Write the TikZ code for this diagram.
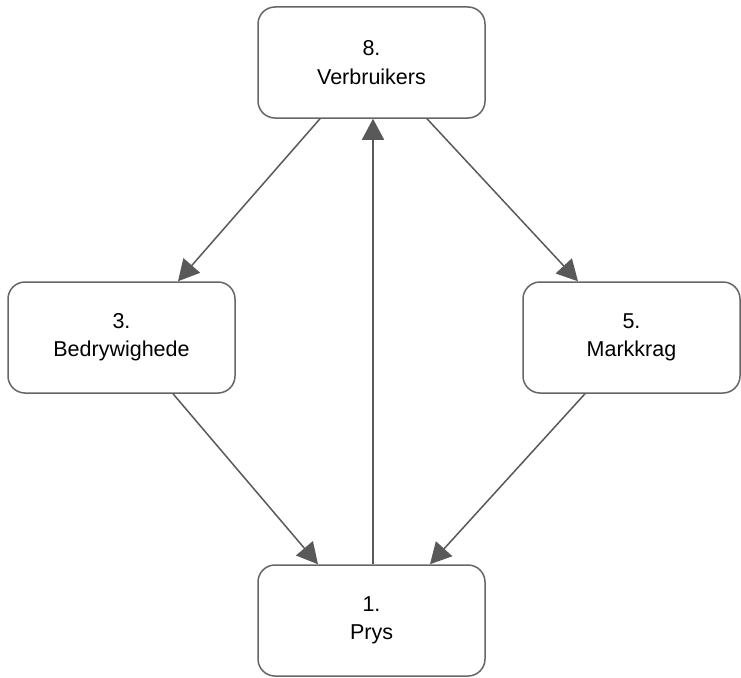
\documentclass[tikz,border=0pt]{standalone}
\usepackage{fontspec}
\setmainfont{Liberation Sans}
\usetikzlibrary{arrows.meta}
\definecolor{edgegray}{HTML}{666666}
\definecolor{arrowgray}{HTML}{595959}
\begin{document}
\begin{tikzpicture}[x=1pt,y=-1pt,
  stage/.style={draw=edgegray, line width=1.5pt, rounded corners=17pt, fill=white,
    minimum height=111pt, inner sep=0pt, align=center,
    font=\fontsize{21.5}{28.3}\selectfont},
  link/.style={draw=arrowgray, line width=1.5pt,
    -{Triangle[length=21pt,width=22pt]}}]
  \useasboundingbox (0,0) rectangle (741,677);
  % four stages of the cycle
  \node[stage, minimum width=227pt] (verb) at (371.5,62.5) {8.\\Verbruikers};
  \node[stage, minimum width=227pt] (bedr) at (121.5,337.5) {3.\\Bedrywighede};
  \node[stage, minimum width=217pt] (mark) at (631.5,337.5) {5.\\Markkrag};
  \node[stage, minimum width=227pt] (prys) at (371.5,620.5) {1.\\Prys};
  % connectors
  \draw[link] ([xshift=-51.5pt]verb.south) -- ([xshift=56.5pt]bedr.north);
  \draw[link] ([xshift=55.5pt]verb.south) -- ([xshift=-53.5pt]mark.north);
  \draw[link] ([xshift=1.5pt]prys.north) -- ([xshift=1.5pt]verb.south);
  \draw[link] ([xshift=51.5pt]bedr.south) -- ([xshift=-53.5pt]prys.north);
  \draw[link] ([xshift=-46.5pt]mark.south) -- ([xshift=58.5pt]prys.north);
\end{tikzpicture}
\end{document}
